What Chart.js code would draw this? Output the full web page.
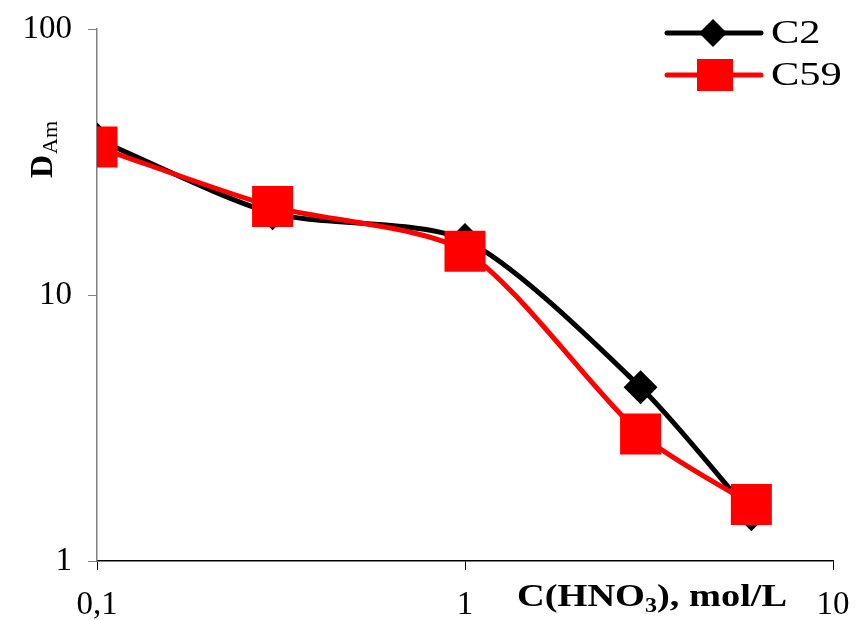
<!DOCTYPE html>
<html>
<head>
<meta charset="utf-8">
<script src="https://cdn.jsdelivr.net/npm/chart.js@4.4.1/dist/chart.umd.min.js"></script>
<style>
  html, body { margin: 0; padding: 0; background: #fff; }
  #wrap { width: 862px; height: 620px; }
</style>
</head>
<body>
<div id="wrap"><canvas id="chart" width="862" height="620"></canvas></div>
<script>
// HNO3 concentration (mol/L) and distribution ratios
const concentrations = [0.1, 0.3, 1, 3, 6];
const c2Values = [38.5, 20.3, 16.1, 4.5, 1.5];
const c59Values = [36, 21.5, 14.6, 3.0, 1.63];

const xTicks = [0.1, 1, 10];
const xTickLabels = ['0,1', '1', '10'];
const yTicks = [1, 10, 100];
const yTickLabels = ['1', '10', '100'];

const serif = '"Liberation Serif", "Times New Roman", serif';

const toPoints = (vals) => concentrations.map((x, i) => ({ x: x, y: vals[i] }));

// Draw axis title, y title and legend (line + marker like the original)
const decorPlugin = {
    id: 'decor',
    afterDraw(chart) {
        const ctx = chart.ctx;
        ctx.save();
        ctx.fillStyle = '#000';

        // X axis title with subscript
        ctx.save();
        ctx.translate(517, 606);
        ctx.scale(1.2, 1);
        ctx.textBaseline = 'alphabetic';
        ctx.font = 'bold 32px ' + serif;
        let x = 0;
        ctx.fillText('C(HNO', x, 0);
        x += ctx.measureText('C(HNO').width;
        ctx.font = 'bold 20px ' + serif;
        ctx.fillText('3', x, 6);
        x += ctx.measureText('3').width;
        ctx.font = 'bold 32px ' + serif;
        ctx.fillText('), mol/L', x, 0);
        ctx.restore();

        // Y axis title (rotated)
        ctx.save();
        ctx.translate(52, 178);
        ctx.rotate(-Math.PI / 2);
        ctx.textBaseline = 'alphabetic';
        ctx.font = 'bold 32px ' + serif;
        ctx.fillText('D', 0, 0);
        const dw = ctx.measureText('D').width;
        ctx.font = '22px ' + serif;
        ctx.fillText('Am', dw + 1, 5);
        ctx.restore();

        // Legend
        const items = [
            { label: 'C2', color: '#000', y: 33, marker: 'diamond' },
            { label: 'C59', color: '#ff0000', y: 75, marker: 'square' }
        ];
        items.forEach(it => {
            ctx.strokeStyle = it.color;
            ctx.lineWidth = 5;
            ctx.lineCap = 'round';
            ctx.beginPath();
            ctx.moveTo(667, it.y);
            ctx.lineTo(761, it.y);
            ctx.stroke();
            ctx.fillStyle = it.color;
            ctx.beginPath();
            if (it.marker === 'diamond') {
                ctx.moveTo(713, it.y - 14);
                ctx.lineTo(727, it.y);
                ctx.lineTo(713, it.y + 14);
                ctx.lineTo(699, it.y);
                ctx.closePath();
            } else {
                ctx.rect(697, it.y - 16, 36, 32);
            }
            ctx.fill();

            ctx.save();
            ctx.translate(771, it.y);
            ctx.scale(1.25, 1);
            ctx.fillStyle = '#000';
            ctx.font = '34px ' + serif;
            ctx.textBaseline = 'middle';
            ctx.fillText(it.label, 0, 1);
            ctx.restore();
        });
        ctx.restore();
    }
};

new Chart(document.getElementById('chart'), {
    type: 'line',
    data: {
        datasets: [
            {
                label: 'C2',
                data: toPoints(c2Values),
                borderColor: '#000',
                backgroundColor: '#000',
                borderWidth: 5,
                tension: 0.25,
                pointStyle: 'rectRot',
                pointRadius: 17,
                pointBorderWidth: 0,
                order: 1
            },
            {
                label: 'C59',
                data: toPoints(c59Values),
                borderColor: '#ff0000',
                backgroundColor: '#ff0000',
                borderWidth: 5,
                tension: 0.25,
                pointStyle: 'rect',
                pointRadius: 29,
                pointBorderWidth: 0,
                order: 0
            }
        ]
    },
    options: {
        responsive: false,
        animation: false,
        layout: { padding: { top: 25, right: 22, left: 0, bottom: 0 } },
        plugins: {
            legend: { display: false },
            tooltip: { enabled: false }
        },
        scales: {
            x: {
                type: 'logarithmic',
                min: 0.1,
                max: 10,
                afterBuildTicks: (scale) => { scale.ticks = xTicks.map(v => ({ value: v })); },
                afterFit: (scale) => {
                    scale.height = 59;
                    scale.paddingLeft = 0;
                    scale.paddingRight = 0;
                },
                border: { color: '#000', width: 1.5 },
                grid: { drawOnChartArea: false, tickLength: 9, color: '#000' },
                ticks: {
                    color: '#000',
                    padding: 16,
                    maxRotation: 0,
                    font: { family: serif, size: 33 },
                    callback: (v) => xTickLabels[xTicks.indexOf(v)] ?? ''
                }
            },
            y: {
                type: 'logarithmic',
                min: 1,
                max: 100,
                afterBuildTicks: (scale) => { scale.ticks = yTicks.map(v => ({ value: v })); },
                afterFit: (scale) => {
                    scale.width = 97;
                    scale.paddingTop = 0;
                    scale.paddingBottom = 0;
                },
                border: { color: '#808080', width: 1.5 },
                grid: { drawOnChartArea: false, tickLength: 9, color: '#808080' },
                ticks: {
                    color: '#000',
                    padding: 16,
                    font: { family: serif, size: 33 },
                    callback: (v) => yTickLabels[yTicks.indexOf(v)] ?? ''
                }
            }
        }
    },
    plugins: [decorPlugin]
});
</script>
</body>
</html>
